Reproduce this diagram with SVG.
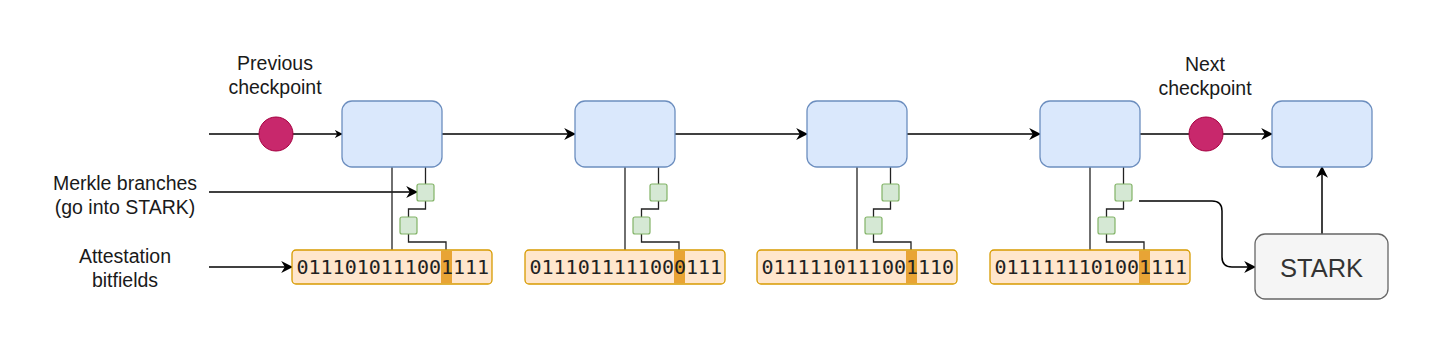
<svg xmlns="http://www.w3.org/2000/svg" width="1440" height="342" viewBox="0 0 1440 342">
<defs>
<marker id="arr" viewBox="0 0 10 10" refX="9" refY="5" markerWidth="8" markerHeight="8" markerUnits="userSpaceOnUse" orient="auto">
<path d="M0,0 L10,5 L0,10 L3,5 Z" fill="#000"/>
</marker>
<marker id="arrL" viewBox="0 0 10 10" refX="9" refY="5" markerWidth="12" markerHeight="12" markerUnits="userSpaceOnUse" orient="auto">
<path d="M0,0 L10,5 L0,10 L3,5 Z" fill="#000"/>
</marker>
<style>
.blk{fill:#dae8fc;stroke:#6c8ebf;stroke-width:1.3}
.dot{fill:#c8286c;stroke:#a50040;stroke-width:1}
.bits{fill:#ffe6cc;stroke:#d79b00;stroke-width:1.3}
.hl{fill:#e8a435}
.sq{fill:#d5e8d4;stroke:#82b366;stroke-width:1.2}
.stark{fill:#f5f5f5;stroke:#666;stroke-width:1.3}
.lbl{font-family:"Liberation Sans",Arial,sans-serif;font-size:19.5px;fill:#1a1a1a;text-anchor:middle}
.mono{font-family:"DejaVu Sans Mono",monospace;font-size:20px;fill:#222}
.ln{fill:none;stroke:#000;stroke-width:1.5}
.thin{fill:none;stroke:#222;stroke-width:1.3}
</style>
</defs>

<g id="labels">
<text class="lbl" x="275" y="70">Previous</text>
<text class="lbl" x="275" y="94">checkpoint</text>
<text class="lbl" x="1205" y="71">Next</text>
<text class="lbl" x="1205" y="95">checkpoint</text>
<text class="lbl" x="125" y="190">Merkle branches</text>
<text class="lbl" x="125" y="214">(go into STARK)</text>
<text class="lbl" x="125" y="263">Attestation</text>
<text class="lbl" x="125" y="287">bitfields</text>
</g>

<g id="connectors">
<line class="ln" x1="209" y1="134" x2="342" y2="134" marker-end="url(#arr)"/>
<line class="ln" x1="442" y1="134" x2="575" y2="134" marker-end="url(#arrL)"/>
<line class="ln" x1="675" y1="134" x2="807" y2="134" marker-end="url(#arrL)"/>
<line class="ln" x1="907" y1="134" x2="1040" y2="134" marker-end="url(#arrL)"/>
<line class="ln" x1="1140" y1="134" x2="1272" y2="134" marker-end="url(#arrL)"/>
<line class="ln" x1="209" y1="192" x2="417" y2="192" marker-end="url(#arrL)"/>
<line class="ln" x1="209" y1="267" x2="292" y2="267" marker-end="url(#arrL)"/>
<path class="ln" d="M1139,201 H1212 Q1222,201 1222,211 V257 Q1222,267 1232,267 H1255" marker-end="url(#arrL)"/>
<line class="ln" x1="1322" y1="234" x2="1322" y2="167" marker-end="url(#arrL)"/>
<g id="tree-lines">
<g transform="translate(0,0)">
<path class="thin" d="M392,167 V250"/>
<path class="thin" d="M425.5,167 V184"/>
<path class="thin" d="M425.5,201 V209 H408.5 V217"/>
<path class="thin" d="M408.5,234 V242 H446 V250"/>
</g>
<g transform="translate(233,0)">
<path class="thin" d="M392,167 V250"/>
<path class="thin" d="M425.5,167 V184"/>
<path class="thin" d="M425.5,201 V209 H408.5 V217"/>
<path class="thin" d="M408.5,234 V242 H446 V250"/>
</g>
<g transform="translate(465,0)">
<path class="thin" d="M392,167 V250"/>
<path class="thin" d="M425.5,167 V184"/>
<path class="thin" d="M425.5,201 V209 H408.5 V217"/>
<path class="thin" d="M408.5,234 V242 H446 V250"/>
</g>
<g transform="translate(698,0)">
<path class="thin" d="M392,167 V250"/>
<path class="thin" d="M425.5,167 V184"/>
<path class="thin" d="M425.5,201 V209 H408.5 V217"/>
<path class="thin" d="M408.5,234 V242 H446 V250"/>
</g>
</g>
</g>

<g id="prev-checkpoint"><circle class="dot" cx="276" cy="134" r="17"/></g>
<g id="next-checkpoint"><circle class="dot" cx="1206" cy="134" r="17"/></g>

<g id="block1"><rect class="blk" x="342" y="101" width="100" height="66" rx="10"/></g>
<g id="block2"><rect class="blk" x="575" y="101" width="100" height="66" rx="10"/></g>
<g id="block3"><rect class="blk" x="807" y="101" width="100" height="66" rx="10"/></g>
<g id="block4"><rect class="blk" x="1040" y="101" width="100" height="66" rx="10"/></g>
<g id="block5"><rect class="blk" x="1272" y="101" width="100" height="66" rx="10"/></g>

<g id="merkle1"><rect class="sq" x="417" y="184" width="17" height="17" rx="2"/><rect class="sq" x="400" y="217" width="17" height="17" rx="2"/></g>
<g id="merkle2"><rect class="sq" x="650" y="184" width="17" height="17" rx="2"/><rect class="sq" x="633" y="217" width="17" height="17" rx="2"/></g>
<g id="merkle3"><rect class="sq" x="882" y="184" width="17" height="17" rx="2"/><rect class="sq" x="865" y="217" width="17" height="17" rx="2"/></g>
<g id="merkle4"><rect class="sq" x="1115" y="184" width="17" height="17" rx="2"/><rect class="sq" x="1098" y="217" width="17" height="17" rx="2"/></g>

<g id="bits1"><rect class="bits" x="292" y="250" width="200" height="34" rx="4"/><rect class="hl" x="441" y="251" width="11" height="32"/><text class="mono" x="296.5" y="274">0111010111001111</text></g>
<g id="bits2"><rect class="bits" x="525" y="250" width="200" height="34" rx="4"/><rect class="hl" x="674" y="251" width="11" height="32"/><text class="mono" x="529.5" y="274">0111011111000111</text></g>
<g id="bits3"><rect class="bits" x="757" y="250" width="200" height="34" rx="4"/><rect class="hl" x="906" y="251" width="11" height="32"/><text class="mono" x="761.5" y="274">0111110111001110</text></g>
<g id="bits4"><rect class="bits" x="990" y="250" width="200" height="34" rx="4"/><rect class="hl" x="1139" y="251" width="11" height="32"/><text class="mono" x="994.5" y="274">0111111101001111</text></g>

<g id="stark"><rect class="stark" x="1255" y="234" width="133" height="65" rx="10"/><text x="1321.5" y="277" style="font-family:'Liberation Sans',Arial,sans-serif;font-size:25.5px;fill:#333;text-anchor:middle">STARK</text></g>
</svg>
